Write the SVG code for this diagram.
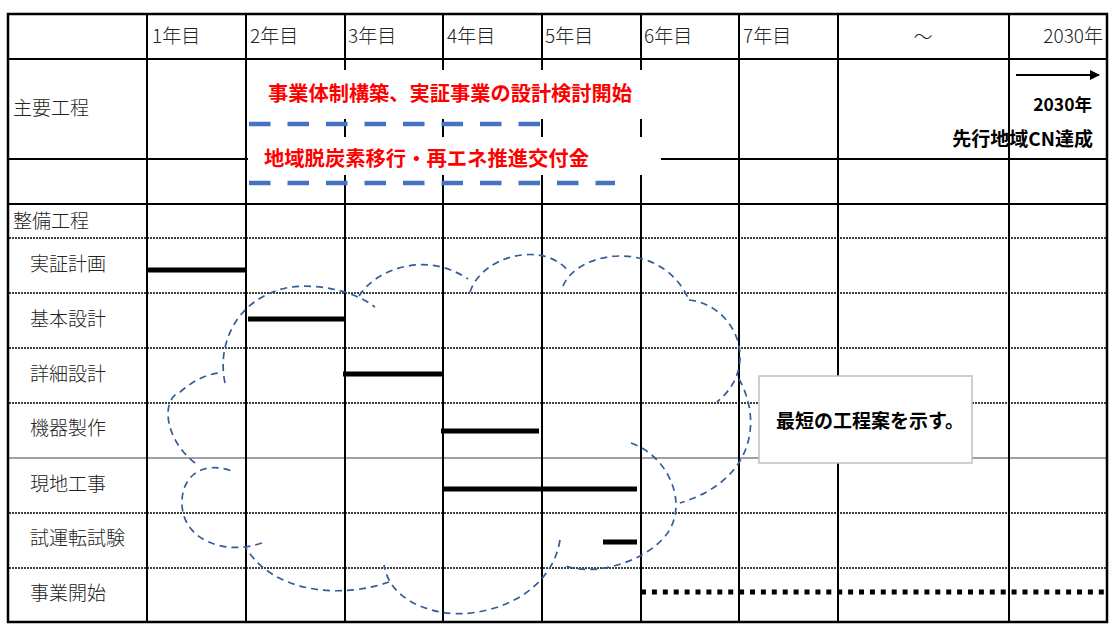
<svg xmlns="http://www.w3.org/2000/svg" width="1112" height="629" viewBox="0 0 1112 629">
<style>
.grid{stroke:#000;stroke-width:2;fill:none}
.dot{stroke:#000;stroke-width:1.6;stroke-dasharray:2 1;fill:none}
.t{font-family:"Noto Sans CJK JP","Noto Sans",sans-serif;font-size:19px;fill:#222;font-weight:300}
.red{font-family:"Noto Sans CJK JP","Noto Sans",sans-serif;font-size:20px;fill:#ff0000;font-weight:bold}
.b{font-family:"Noto Sans CJK JP","Noto Sans",sans-serif;fill:#000;font-weight:bold}
.bar{stroke:#000;stroke-width:5;fill:none}
.blue{stroke:#4472C4;stroke-width:4.5;stroke-dasharray:21.5 17;fill:none}
.cloud{stroke:#355C9A;stroke-width:1.7;stroke-dasharray:7 5;fill:none}
</style>
<defs>
<marker id="ah" markerWidth="10" markerHeight="10" refX="9" refY="5" orient="auto" markerUnits="userSpaceOnUse">
<path d="M0,0 L10,5 L0,10 Z" fill="#000"/>
</marker>
</defs>
<rect x="0" y="0" width="1112" height="629" fill="#fff"/>
<g id="grid">
<line class="dot" x1="9" y1="238" x2="1106" y2="238"/>
<line class="dot" x1="9" y1="293" x2="1106" y2="293"/>
<line class="dot" x1="9" y1="348" x2="1106" y2="348"/>
<line class="dot" x1="9" y1="403" x2="1106" y2="403"/>
<line x1="9" y1="458" x2="1106" y2="458" stroke="#808080" stroke-width="1.5"/>
<line class="dot" x1="9" y1="513" x2="1106" y2="513"/>
<line class="dot" x1="9" y1="568" x2="1106" y2="568"/>
<line class="grid" x1="8" y1="59" x2="1107" y2="59"/>
<line class="grid" x1="8" y1="159" x2="1107" y2="159"/>
<line class="grid" x1="8" y1="204" x2="1107" y2="204"/>
<line class="grid" x1="147" y1="14" x2="147" y2="622"/>
<line class="grid" x1="246" y1="14" x2="246" y2="622"/>
<line class="grid" x1="345" y1="14" x2="345" y2="622"/>
<line class="grid" x1="443" y1="14" x2="443" y2="622"/>
<line class="grid" x1="542" y1="14" x2="542" y2="622"/>
<line class="grid" x1="641" y1="14" x2="641" y2="622"/>
<line class="grid" x1="739" y1="14" x2="739" y2="622"/>
<line class="grid" x1="838" y1="14" x2="838" y2="622"/>
<line class="grid" x1="1009" y1="14" x2="1009" y2="622"/>
<rect x="8" y="14" width="1099" height="608" fill="none" stroke="#000" stroke-width="2.5"/>
</g>
<g id="header">
<text class="t" x="152" y="43">1年目</text>
<text class="t" x="250" y="43">2年目</text>
<text class="t" x="348" y="43">3年目</text>
<text class="t" x="447" y="43">4年目</text>
<text class="t" x="545" y="43">5年目</text>
<text class="t" x="644" y="43">6年目</text>
<text class="t" x="743" y="43">7年目</text>
<text class="t" x="923" y="44" text-anchor="middle" font-size="26">〜</text>
<text class="t" x="1103" y="43" text-anchor="end">2030年</text>
</g>
<g id="row-labels">
<text class="t" x="13" y="115">主要工程</text>
<text class="t" x="13" y="228">整備工程</text>
<text class="t" x="30" y="271">実証計画</text>
<text class="t" x="30" y="326">基本設計</text>
<text class="t" x="30" y="381">詳細設計</text>
<text class="t" x="30" y="435">機器製作</text>
<text class="t" x="30" y="491">現地工事</text>
<text class="t" x="30" y="545">試運転試験</text>
<text class="t" x="30" y="600">事業開始</text>
</g>
<g id="main-process-1">
<rect x="248" y="70" width="397" height="49" fill="#fff"/>
<text class="red" x="268" y="101" textLength="364" lengthAdjust="spacingAndGlyphs">事業体制構築、実証事業の設計検討開始</text>
</g>
<g id="main-process-2">
<rect x="248" y="137" width="413" height="38" fill="#fff"/>
<text class="red" x="264" y="166" textLength="325" lengthAdjust="spacingAndGlyphs">地域脱炭素移行・再エネ推進交付金</text>
</g>
<g id="connectors">
<line class="blue" x1="249" y1="124" x2="540" y2="124"/>
<line class="blue" x1="249" y1="183" x2="615" y2="183"/>
<line x1="1016" y1="75" x2="1099" y2="75" stroke="#000" stroke-width="2" marker-end="url(#ah)"/>
</g>
<g id="goal">
<text class="b" x="1092" y="111" text-anchor="end" font-size="17.5">2030年</text>
<text class="b" x="1093" y="146" text-anchor="end" font-size="19">先行地域CN達成</text>
</g>
<g id="bars">
<line class="bar" x1="147" y1="270" x2="246" y2="270"/>
<line class="bar" x1="248" y1="319" x2="346" y2="319"/>
<line class="bar" x1="343" y1="374" x2="443" y2="374"/>
<line class="bar" x1="441" y1="431" x2="539" y2="431"/>
<line class="bar" x1="443" y1="489" x2="637" y2="489"/>
<line class="bar" x1="603" y1="542" x2="637" y2="542"/>
<line x1="641" y1="592" x2="1107" y2="592" stroke="#000" stroke-width="5" stroke-dasharray="5 5.9"/>
</g>
<g id="cloud">
<path class="cloud" d="M225,383 C216,340 240,298 286,288 C310,283 350,288 375,307"/>
<path class="cloud" d="M359,296 C375,270 425,250 468,279"/>
<path class="cloud" d="M470,292 C482,255 545,240 569,272"/>
<path class="cloud" d="M563,286 C578,250 660,238 688,298"/>
<path class="cloud" d="M689,300 C735,305 762,365 717,402"/>
<path class="cloud" d="M739,379 C762,420 755,480 680,503"/>
<path class="cloud" d="M631,443 C665,455 685,495 672,525 C660,555 600,580 563,565"/>
<path class="cloud" d="M560,540 C550,600 480,620 440,612 C410,606 388,590 384,565"/>
<path class="cloud" d="M389,582 C345,598 275,595 246,548"/>
<path class="cloud" d="M262,543 C225,556 180,540 182,500 C183,478 200,460 232,471"/>
<path class="cloud" d="M195,463 C165,440 160,400 180,392 C192,382 205,374 220,373"/>
</g>
<g id="callout">
<rect x="759" y="376" width="213" height="87" fill="#fff" stroke="#c0c0c0" stroke-width="1.5"/>
<text class="b" x="776" y="428" font-size="19">最短の工程案を示す。</text>
</g>
</svg>
